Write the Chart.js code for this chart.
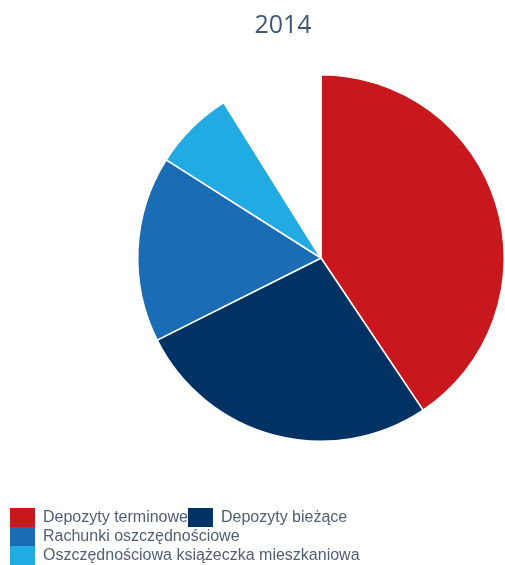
<!DOCTYPE html>
<html>
<head>
<meta charset="utf-8">
<script src="https://cdn.jsdelivr.net/npm/chart.js@4.4.1/dist/chart.umd.min.js"></script>
<style>
  html, body { margin: 0; padding: 0; overflow: hidden; background: #fff; }
  #wrap { width: 505px; height: 575px; position: relative; }
</style>
</head>
<body>
<div id="wrap"><canvas id="wykres"></canvas></div>
<script>
const TYTUL = '2014';
const KATEGORIE = ['Depozyty terminowe', 'Depozyty bieżące', 'Rachunki oszczędnościowe', 'Oszczędnościowa książeczka mieszkaniowa', 'Pozostałe'];
const UDZIALY = [40.6, 27.0, 16.4, 7.1, 8.9];
const KOLORY = ['#c9171e', '#003263', '#1a6db4', '#22aae2', '#ffffff'];

var wykres = new Chart(document.getElementById('wykres').getContext('2d'), {
    type: 'pie',
    data: {
        labels: KATEGORIE,
        datasets: [{
            data: UDZIALY,
            backgroundColor: KOLORY,
            borderColor: '#ffffff',
            borderWidth: 1.5
        }]
    },
    options: {
        responsive: true,
        maintainAspectRatio: false,
        animation: false,
        // tytul przesuniety w prawo jak w oryginale
        layout: { padding: { left: 10, right: -51, top: 0, bottom: 0 } },
        // puste osie tylko po to, zeby przesunac kolo jak w oryginale
        scales: {
            lewy: {
                type: 'linear', position: 'left',
                ticks: { display: false }, grid: { display: false }, border: { display: false },
                afterFit: s => { s.width = 127; }
            },
            dolny: {
                type: 'linear', position: 'bottom',
                ticks: { display: false }, grid: { display: false }, border: { display: false },
                afterFit: s => { s.height = 65; }
            }
        },
        plugins: {
            title: {
                display: true,
                text: TYTUL,
                color: '#3d5775',
                font: { family: 'Open Sans', size: 25, weight: 'normal' },
                padding: { top: 11, bottom: 32 }
            },
            legend: {
                position: 'bottom',
                align: 'start',
                labels: {
                    boxWidth: 25,
                    boxHeight: 19,
                    padding: 0,
                    color: '#4f5f74',
                    font: { family: 'Liberation Sans', size: 16 },
                    generateLabels: chart => Chart.overrides.pie.plugins.legend.labels.generateLabels(chart)
                        .map(l => Object.assign(l, { lineWidth: 0 })),
                    filter: l => l.index < 4
                }
            },
            tooltip: { enabled: false }
        }
    }
});
</script>
</body>
</html>
